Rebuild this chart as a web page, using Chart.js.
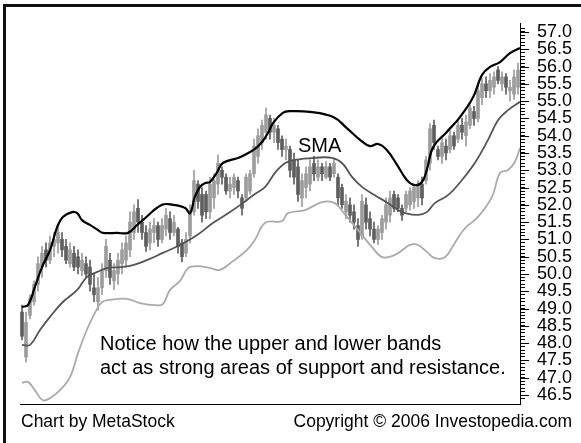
<!DOCTYPE html>
<html lang="en">
<head>
    <meta charset="UTF-8">
    <title>Bollinger Bands - MetaStock</title>
    <style>
        html, body { margin: 0; overflow: hidden; }
        body { width: 581px; height: 443px; background: #fff; position: relative; font-family: "Liberation Sans", Arial, sans-serif; }
        #lineTop { position: absolute; left: 3px; top: 4px; width: 578px; height: 3px; background: #111; }
        #lineLeft { position: absolute; left: 3px; top: 4px; width: 3px; height: 439px; background: #111; }
        #chart { position: absolute; left: 0; top: 0; }
        .txt { position: absolute; color: #000; white-space: nowrap; }
        #sma { left: 298px; top: 133px; font-size: 20px; line-height: 24px; }
        #note { left: 100px; top: 331px; font-size: 20px; line-height: 24px; }
        #footLeft { left: 21px; top: 411px; font-size: 17.5px; line-height: 20px; }
        #footRight { right: 9px; top: 411px; font-size: 17.5px; line-height: 20px; }
    </style>
</head>
<body>
    <div id="lineTop"></div>
    <div id="lineLeft"></div>
    <canvas id="chart" width="581" height="443"></canvas>
    <div class="txt" id="sma">SMA</div>
    <div class="txt" id="note">Notice how the upper and lower bands<br>act as strong areas of support and resistance.</div>
    <div class="txt" id="footLeft">Chart by MetaStock</div>
    <div class="txt" id="footRight">Copyright © 2006 Investopedia.com</div>

    <script src="https://cdn.jsdelivr.net/npm/chart.js"></script>
    <script>
        // daily price bars
        const opens = [48.9, 47.6, 48.8, 49.2, 49.7, 50.2, 50.7, 50.4, 50.8, 50.9,
            51.0, 50.8, 50.3, 50.6, 50.5, 50.1, 50.3, 50.2, 49.6, 49.2,
            49.6, 50.1, 50.4, 49.8, 50.0, 50.3, 50.4, 50.7, 51.2, 51.9,
            51.5, 51.2, 50.9, 51.2, 51.4, 51.0, 51.3, 51.6, 51.2, 51.3,
            50.9, 50.6, 51.1, 51.8, 52.6, 52.3, 52.3, 51.8, 52.2, 52.6,
            53.0, 52.8, 52.4, 52.5, 52.7, 52.2, 52.2, 52.4, 52.9, 53.4,
            53.8, 54.1, 54.5, 54.1, 54.2, 53.9, 53.6, 53.6, 53.3, 53.1,
            52.2, 52.5, 52.6, 53.2, 52.8, 53.1, 52.8, 53.1, 52.9, 52.8,
            52.5, 51.8, 52.0, 51.8, 51.4, 51.1, 52.0, 51.6, 51.3, 51.0,
            51.2, 51.5, 51.7, 52.3, 52.2, 51.9, 51.9, 52.0, 52.1, 52.2,
            52.6, 52.7, 53.2, 54.3, 53.6, 53.4, 53.7, 53.6, 54.0, 53.9,
            54.3, 54.0, 54.3, 54.7, 54.5, 55.1, 55.5, 55.3, 55.4, 55.9,
            55.5, 55.7, 55.3, 55.2, 55.4];
        const closes = [48.2, 48.6, 49.3, 49.7, 50.3, 50.6, 50.4, 50.9, 51.0, 51.2,
            50.7, 50.4, 50.7, 50.2, 50.2, 50.4, 50.0, 49.7, 49.4, 49.6,
            50.1, 50.8, 49.9, 50.1, 50.4, 50.7, 50.9, 51.5, 51.8, 51.5,
            51.2, 50.8, 51.3, 51.4, 51.0, 51.4, 51.7, 51.2, 51.5, 50.8,
            50.5, 51.0, 51.8, 52.7, 52.1, 51.7, 51.8, 52.6, 52.7, 53.2,
            52.8, 52.4, 52.6, 52.8, 52.4, 51.9, 52.8, 52.9, 53.7, 54.0,
            54.3, 54.6, 54.1, 54.3, 53.8, 53.6, 53.7, 53.0, 52.8, 52.3,
            52.7, 52.9, 53.1, 52.9, 53.1, 52.9, 53.1, 52.8, 53.2, 52.2,
            52.0, 52.1, 51.7, 51.5, 51.0, 52.1, 51.5, 51.3, 51.0, 51.3,
            51.6, 52.0, 52.2, 51.9, 51.9, 51.7, 52.3, 52.4, 52.5, 52.6,
            52.2, 53.3, 54.2, 53.8, 53.4, 53.8, 53.5, 54.0, 53.7, 54.3,
            54.1, 54.4, 54.8, 54.5, 55.3, 55.5, 55.3, 55.6, 55.7, 55.6,
            55.7, 55.4, 55.4, 55.7, 55.9];
        const highs = [49.1, 48.9, 49.4, 49.8, 50.5, 50.8, 50.9, 51.1, 51.2, 51.35,
            51.2, 51.0, 50.9, 50.8, 50.7, 50.6, 50.5, 50.4, 50.0, 49.9,
            50.3, 51.0, 50.6, 50.3, 50.6, 50.9, 51.1, 51.8, 52.0, 52.15,
            51.7, 51.4, 51.5, 51.6, 51.5, 51.6, 51.9, 51.8, 51.7, 51.35,
            51.0, 51.2, 52.0, 53.0, 52.7, 52.5, 52.4, 52.8, 52.9, 53.45,
            53.1, 52.9, 52.8, 52.9, 52.8, 52.3, 52.9, 53.0, 53.9, 54.2,
            54.45, 54.8, 54.6, 54.5, 54.3, 54.0, 53.9, 53.7, 53.5, 53.3,
            52.9, 53.1, 53.3, 53.4, 53.3, 53.2, 53.25, 53.2, 53.35, 52.9,
            52.6, 52.3, 52.2, 52.0, 51.6, 52.3, 52.2, 51.8, 51.5, 51.4,
            51.7, 52.2, 52.4, 52.4, 52.3, 52.0, 52.4, 52.5, 52.6, 52.7,
            52.8, 53.4, 54.35, 54.45, 53.7, 54.0, 53.9, 54.15, 54.1, 54.45,
            54.5, 54.6, 54.9, 54.85, 55.5, 55.65, 55.7, 55.8, 55.85, 56.0,
            55.85, 55.8, 55.6, 55.9, 56.1];
        const lows = [48.1, 47.45, 48.7, 49.1, 49.5, 49.9, 50.2, 50.3, 50.5, 50.6,
            50.5, 50.3, 50.2, 50.1, 50.0, 49.95, 49.9, 49.5, 49.2, 48.95,
            49.4, 49.9, 49.7, 49.55, 49.7, 50.0, 50.2, 50.5, 51.0, 51.2,
            51.0, 50.65, 50.7, 50.9, 50.8, 50.9, 51.1, 51.0, 51.1, 50.6,
            50.35, 50.5, 50.9, 51.7, 51.9, 51.5, 51.6, 51.6, 51.9, 52.3,
            52.6, 52.3, 52.2, 52.3, 52.2, 51.7, 52.1, 52.3, 52.8, 53.2,
            53.6, 53.9, 53.9, 53.8, 53.6, 53.4, 53.3, 52.8, 52.6, 52.1,
            51.95, 52.2, 52.4, 52.7, 52.7, 52.7, 52.75, 52.7, 52.8, 52.0,
            51.9, 51.6, 51.5, 51.3, 50.8, 51.0, 51.3, 51.1, 50.9, 50.85,
            51.0, 51.3, 51.5, 51.8, 51.8, 51.55, 51.8, 51.85, 51.9, 51.95,
            52.0, 52.6, 53.0, 53.6, 53.3, 53.2, 53.3, 53.5, 53.6, 53.8,
            53.9, 53.7, 54.2, 54.3, 54.4, 54.9, 55.1, 55.1, 55.2, 55.5,
            55.3, 55.2, 55.0, 55.05, 55.2];

        // bands: day position -> value
        const upperDays = [0, 1.5, 3.2, 5, 7, 8.8, 10.2, 12.5, 13.8, 15, 17, 19, 20.2, 23.8, 26.5, 28.8, 30.2, 35, 37.8, 40.8,
            42, 43.2, 44.5, 45.8, 47, 48.8, 50.2, 54.5, 58.8, 61.2, 62.8, 65.2, 67, 72, 77.8, 81.2, 84.5, 87, 89, 91.2,
            93.8, 96.2, 98.2, 100, 101.2, 102.8, 106.2, 109.5, 112.8, 115, 117, 119.5, 122, 124.5];
        const upperVals = [49.05, 49.10, 49.62, 50.20, 50.69, 51.36, 51.65, 51.79, 51.76, 51.56, 51.42, 51.27, 51.19, 51.19, 51.19, 51.42, 51.56, 52.00, 52.00, 51.91,
            51.76, 52.23, 52.52, 52.63, 52.66, 52.95, 53.21, 53.38, 53.67, 54.02, 54.37, 54.66, 54.71, 54.69, 54.54, 54.22, 53.88, 53.70, 53.76, 53.59,
            53.15, 52.72, 52.57, 52.66, 53.01, 53.67, 54.11, 54.54, 55.12, 55.76, 55.99, 56.13, 56.39, 56.54];
        const smaDays = [0, 2, 4.5, 7, 10.2, 13.8, 16.2, 18.8, 21.2, 24.5, 27.8, 31.2, 35.2, 39.5, 43.8, 47.8, 52, 55.2, 57.8, 60.8,
            63.2, 65.8, 68.2, 73.2, 77.5, 80, 82.5, 85, 88.2, 91.5, 94, 95.8, 99, 101.2, 103.2, 106.5, 110, 113.2, 116.5, 119,
            121.5, 124.5];
        const smaVals = [47.95, 47.95, 48.38, 48.76, 49.19, 49.54, 49.91, 50.06, 50.17, 50.20, 50.26, 50.40, 50.61, 50.84, 51.13, 51.48, 51.79, 52.05, 52.28, 52.52,
            52.92, 53.21, 53.30, 53.36, 53.36, 53.21, 52.81, 52.52, 52.28, 52.05, 51.85, 51.76, 51.71, 51.79, 52.05, 52.28, 52.72, 53.21, 53.88, 54.45,
            54.74, 54.98];
        const lowerDays = [0, 1.5, 3.2, 5.2, 7, 9.5, 12, 14, 16.2, 18.2, 20, 22, 26.2, 29.5, 33.2, 35.2, 37, 39.5, 41.5, 43.8,
            47, 49.5, 52.8, 56.2, 58.2, 60.8, 65, 66.5, 70.8, 75, 78.2, 80.8, 84, 87.5, 90, 92.5, 94.5, 97, 99, 101.2,
            103.2, 105.8, 108.2, 110.8, 114, 117.5, 119.5, 121.5, 123.2, 124.5];
        const lowerVals = [46.85, 46.88, 46.64, 46.35, 46.41, 46.64, 47.02, 47.71, 48.38, 48.87, 49.19, 49.25, 49.28, 49.16, 49.10, 49.13, 49.54, 49.80, 50.17, 50.23,
            50.17, 50.12, 50.38, 50.69, 50.98, 51.48, 51.53, 51.76, 51.85, 52.08, 52.05, 51.71, 51.27, 50.78, 50.49, 50.52, 50.64, 50.84, 50.84, 50.64,
            50.46, 50.49, 50.90, 51.33, 51.65, 52.23, 52.92, 53.01, 53.24, 53.64];

        const yMin = 46.24, yMax = 57.26;
        const upColor = '#9c9c9c';
        const downColor = '#5e5e5e';

        function barColor(ctx) {
            const i = ctx.dataIndex;
            return closes[i] >= opens[i] ? upColor : downColor;
        }
        function isMajor(v) {
            return Math.abs(v * 2 - Math.round(v * 2)) < 0.001;
        }
        function band(days, vals) {
            return days.map((d, k) => ({ x: d, y: vals[k] }));
        }

        // longer tick marks on the .5 steps
        const majorTicks = {
            id: 'majorTicks',
            afterDraw(chart) {
                const s = chart.scales.y;
                const c = chart.ctx;
                c.save();
                c.strokeStyle = '#000';
                c.lineWidth = 1;
                s.ticks.forEach(t => {
                    if (!isMajor(t.value)) return;
                    const y = Math.round(s.getPixelForValue(t.value)) + 0.5;
                    c.beginPath();
                    c.moveTo(s.left, y);
                    c.lineTo(s.left + 9, y);
                    c.stroke();
                });
                c.restore();
            }
        };

        new Chart(document.getElementById('chart'), {
            type: 'bar',
            data: {
                datasets: [
                    {
                        type: 'line', label: 'Upper', data: band(upperDays, upperVals),
                        borderColor: '#000', borderWidth: 2.2, pointRadius: 0, tension: 0.4, order: 1
                    },
                    {
                        type: 'line', label: 'SMA', data: band(smaDays, smaVals),
                        borderColor: '#555', borderWidth: 1.8, pointRadius: 0, tension: 0.4, order: 1
                    },
                    {
                        type: 'line', label: 'Lower', data: band(lowerDays, lowerVals),
                        borderColor: '#aaa', borderWidth: 1.8, pointRadius: 0, tension: 0.4, order: 1
                    },
                    {
                        label: 'Range', data: highs.map((h, i) => ({ x: i, y: [lows[i], h] })),
                        backgroundColor: barColor, barThickness: 1, grouped: false, order: 3
                    },
                    {
                        label: 'Body', data: opens.map((o, i) => ({ x: i, y: [o, closes[i]] })),
                        backgroundColor: barColor, barThickness: 3, grouped: false, order: 2
                    }
                ]
            },
            options: {
                responsive: false,
                animation: false,
                layout: { padding: { left: 20, top: 23, right: 0, bottom: 39 } },
                plugins: { legend: { display: false }, tooltip: { enabled: false } },
                scales: {
                    x: {
                        type: 'linear', min: -0.5, max: 124.5, offset: false,
                        ticks: { display: false },
                        grid: { display: false, drawTicks: false },
                        border: { display: true, color: '#000', width: 1 }
                    },
                    y: {
                        position: 'right', min: yMin, max: yMax,
                        afterBuildTicks(scale) {
                            scale.ticks = scale.ticks.filter(t => Math.abs(t.value * 10 - Math.round(t.value * 10)) < 1e-6);
                        },
                        afterFit(scale) { scale.width = 61; },
                        ticks: {
                            stepSize: 0.1, autoSkip: false, padding: 12, color: '#000',
                            font: { family: '"Liberation Sans", Arial, sans-serif', size: 18 },
                            callback: v => isMajor(v) ? v.toFixed(1) : ''
                        },
                        grid: { drawOnChartArea: false, drawTicks: true, tickLength: 5, color: '#000' },
                        border: { display: true, color: '#000', width: 1 }
                    }
                }
            },
            plugins: [majorTicks]
        });
    </script>
</body>
</html>
